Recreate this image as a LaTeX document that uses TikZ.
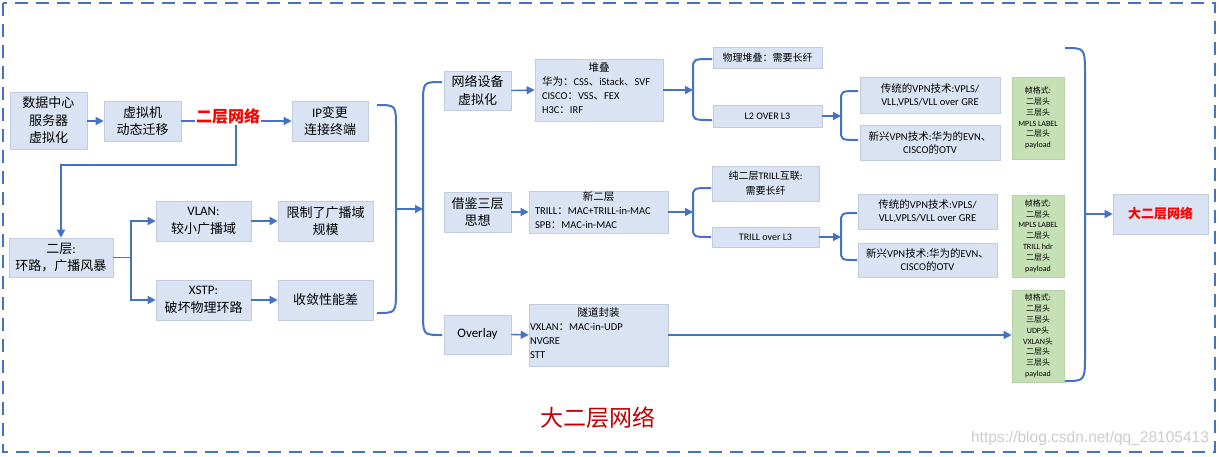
\documentclass[tikz,border=0pt]{standalone}
\usepackage{fontspec}
\setmainfont{Carlito}
\newfontfamily\latinfont{Carlito}
\newfontfamily\cjk{Noto Sans CJK SC}
\newfontfamily\wmfont{Liberation Sans}
\usetikzlibrary{arrows.meta}
% automatic switch to the CJK font for CJK characters
\XeTeXinterchartokenstate=1
\newXeTeXintercharclass\cjkclass
\newcount\cjkcnt
\def\cjkrange#1#2{\cjkcnt=#1\relax\loop\XeTeXcharclass\cjkcnt=\cjkclass\advance\cjkcnt by 1\relax\ifnum\cjkcnt<#2\repeat}
\cjkrange{"4E00}{"A000}
\cjkrange{"3000}{"3040}
\cjkrange{"FF00}{"FFF0}
\XeTeXinterchartoks 0 \cjkclass={\cjk}
\XeTeXinterchartoks 4095 \cjkclass={\cjk}
\XeTeXinterchartoks \cjkclass 0={\latinfont}
\XeTeXinterchartoks \cjkclass 4095={\latinfont}
\definecolor{ln}{HTML}{4472C4}
\definecolor{bf}{HTML}{DAE3F3}
\definecolor{bd}{HTML}{C3CCDD}
\definecolor{gf}{HTML}{C5E0B4}
\definecolor{gd}{HTML}{B7D2A5}
\definecolor{dred}{HTML}{C00000}
\tikzset{
  bx/.style={draw=bd, line width=0.6pt, fill=bf, inner sep=0pt, align=center},
  gbx/.style={draw=gd, line width=0.6pt, fill=gf, inner sep=0pt, align=center,
    font=\fontsize{8}{10.8}\selectfont, minimum width=52pt},
  bigt/.style={font=\fontsize{13}{17.5}\selectfont},
  midt/.style={font=\fontsize{10.5}{14}\selectfont},
  smlt/.style={font=\fontsize{10}{15}\selectfont},
  vpnt/.style={font=\fontsize{10.5}{13}\selectfont},
  arr/.style={draw=ln, line width=1.4pt, -{Triangle[length=8pt,width=8pt]}},
  conn/.style={draw=ln, line width=1.4pt},
  brk/.style={draw=ln, line width=2pt},
}
\begin{document}
\begin{tikzpicture}[x=1pt,y=-1pt]
\fill[white] (0,0) rectangle (1219,456);
\useasboundingbox (0,0) rectangle (1219,456);
\draw[ln, line width=2.5pt, dash pattern=on 13pt off 8pt] (3,3) rectangle (1215,452);

% ---- left part
\node[bx,bigt,minimum width=77pt,minimum height=57pt] (dc) at (48.5,120.5) {数据中心\\服务器\\虚拟化};
\node[bx,bigt,minimum width=77pt,minimum height=40pt] (vm) at (142.5,121) {虚拟机\\动态迁移};
\node[inner sep=1pt, text=red, font=\bfseries\fontsize{16}{18}\selectfont] (l2t) at (228,116) {二层网络};
\node[bx,bigt,minimum width=76pt,minimum height=40pt] (ip) at (330,121) {IP变更\\连接终端};
\node[bx,bigt,minimum width=104pt,minimum height=39pt] (l2) at (61,257.5) {二层:\\环路，广播风暴};
\node[bx,bigt,minimum width=95pt,minimum height=40pt] (vlan) at (203.5,221) {VLAN:\\较小广播域};
\node[bx,bigt,minimum width=95pt,minimum height=40pt] (lim) at (325.5,221) {限制了广播域\\规模};
\node[bx,bigt,minimum width=95pt,minimum height=40pt] (xstp) at (203.5,300) {XSTP:\\破坏物理环路};
\node[bx,bigt,minimum width=95pt,minimum height=40pt] (conv) at (325.5,300) {收敛性能差};

\draw[arr] (dc.east |- vm.west) -- (vm.west);
\draw[conn] (vm.east) -- (vm.east -| l2t.west);
\draw[arr] (ip.west -| l2t.east) -- (ip.west);
\coordinate (j1) at (236,165);
\draw[arr] (j1 |- l2t.south) -- (j1) -| (l2.north);
\coordinate (sp) at (131,257.5);
\draw[conn] (l2.east) -- (sp);
\draw[arr] (sp) |- (vlan.west);
\draw[arr] (sp) |- (xstp.west);
\draw[arr] (vlan.east) -- (lim.west);
\draw[arr] (xstp.east) -- (conv.west);

% big brackets
\coordinate (b1m) at (396,209);
\coordinate (b2m) at (423,209);
\draw[brk] (377,105) .. controls (396,105) .. (396,128) -- (396,290) .. controls (396,313) .. (377,313);
\draw[brk] (442,82) .. controls (423,82) .. (423,105) -- (423,312) .. controls (423,335) .. (442,335);
\draw[arr] (b1m) -- (b2m);

% ---- middle part
\node[bx,bigt,minimum width=67pt,minimum height=39pt] (nd) at (477.5,90.5) {网络设备\\虚拟化};
\node[bx,midt,minimum width=128pt,minimum height=62pt] (stk) at (599,90)
  {\begin{tabular}{@{}p{114pt}@{}}\multicolumn{1}{@{}c@{}}{堆叠}\\华为：CSS、iStack、SVF\\CISCO：VSS、FEX\\H3C：IRF\end{tabular}};
\node[bx,bigt,minimum width=67pt,minimum height=40pt] (ts) at (477.5,212) {借鉴三层\\思想};
\node[bx,midt,minimum width=139pt,minimum height=40pt] (nl2) at (598.5,212)
  {\begin{tabular}{@{}p{127pt}@{}}\multicolumn{1}{@{}c@{}}{新二层}\\TRILL：MAC+TRILL-in-MAC\\SPB：MAC-in-MAC\end{tabular}};
\node[bx,bigt,minimum width=67pt,minimum height=39pt] (ov) at (477.5,334.5) {Overlay};
\node[bx,midt,minimum width=139pt,minimum height=62pt] (tun) at (598.5,335)
  {\begin{tabular}{@{}p{137pt}@{}}\multicolumn{1}{@{}c@{}}{隧道封装}\\VXLAN：MAC-in-UDP\\NVGRE\\STT\end{tabular}};

\draw[arr] (nd.east) -- (stk.west);
\draw[arr] (ts.east) -- (nl2.west);
\draw[arr] (ov.east) -- (tun.west);

% ---- small boxes
\node[bx,smlt,minimum width=109pt,minimum height=21pt] (pst) at (767.5,57.5) {物理堆叠：需要长纤};
\node[bx,smlt,minimum width=109pt,minimum height=22pt] (l2o3) at (767.5,116) {L2 OVER L3};
\node[bx,vpnt,minimum width=140pt,minimum height=36pt] (vpn1) at (930,95) {传统的VPN技术:VPLS/\\VLL,VPLS/VLL over GRE};
\node[bx,vpnt,minimum width=140pt,minimum height=35pt] (vpn2) at (930,142.5) {新兴VPN技术:华为的EVN、\\CISCO的OTV};
\node[bx,smlt,minimum width=107pt,minimum height=35pt] (pure) at (765.5,183.5) {纯二层TRILL互联:\\需要长纤};
\node[bx,smlt,minimum width=107pt,minimum height=20pt] (tol3) at (765.5,237) {TRILL over L3};
\node[bx,vpnt,minimum width=139pt,minimum height=35pt] (vpn3) at (927.5,211.5) {传统的VPN技术:VPLS/\\VLL,VPLS/VLL over GRE};
\node[bx,vpnt,minimum width=139pt,minimum height=34pt] (vpn4) at (927.5,260) {新兴VPN技术:华为的EVN、\\CISCO的OTV};

\coordinate (b3) at (693,90);
\coordinate (b4) at (841,116);
\coordinate (b5) at (693,212);
\coordinate (b6) at (841,237);
\draw[brk] (712,59) .. controls (693,59) .. (693,69) -- (693,110) .. controls (693,120) .. (712,120);
\draw[brk] (858,91) .. controls (841,91) .. (841,101) -- (841,130) .. controls (841,140) .. (858,140);
\draw[brk] (711,188) .. controls (693,188) .. (693,198) -- (693,227) .. controls (693,237) .. (711,237);
\draw[brk] (857,213) .. controls (841,213) .. (841,223) -- (841,250) .. controls (841,260) .. (857,260);
\draw[arr] (stk.east) -- (b3);
\draw[arr] (l2o3.east) -- (b4);
\draw[arr] (nl2.east) -- (b5);
\draw[arr] (tol3.east) -- (b6);

% ---- green boxes
\node[gbx,minimum height=82pt] (g1) at (1038,118) {帧格式:\\二层头\\三层头\\MPLS LABEL\\二层头\\payload};
\node[gbx,minimum height=82pt] (g2) at (1038,236) {帧格式:\\二层头\\MPLS LABEL\\二层头\\TRILL hdr\\二层头\\payload};
\node[gbx,minimum height=92pt] (g3) at (1038,336) {帧格式:\\二层头\\三层头\\UDP头\\VXLAN头\\二层头\\三层头\\payload};
\draw[arr] (tun.east) -- (tun.east -| g3.west);

% right bracket and result
\node[bx,minimum width=95pt,minimum height=40pt, text=red, font=\bfseries\fontsize{13}{16}\selectfont] (res) at (1160.5,214) {大二层网络};
\coordinate (b7m) at (1085,214);
\draw[brk] (1065,48) .. controls (1085,48) .. (1085,75) -- (1085,354) .. controls (1085,381) .. (1065,381);
\draw[arr] (b7m) -- (res.west);

% titles
\node[text=dred, font=\fontsize{23}{26}\selectfont] (title) at (598,418) {大二层网络};
\node[text=black!20, font=\wmfont\fontsize{15.5}{17}\selectfont] (wm) at (1090,438) {https://blog.csdn.net/qq\_28105413};
\end{tikzpicture}
\end{document}
